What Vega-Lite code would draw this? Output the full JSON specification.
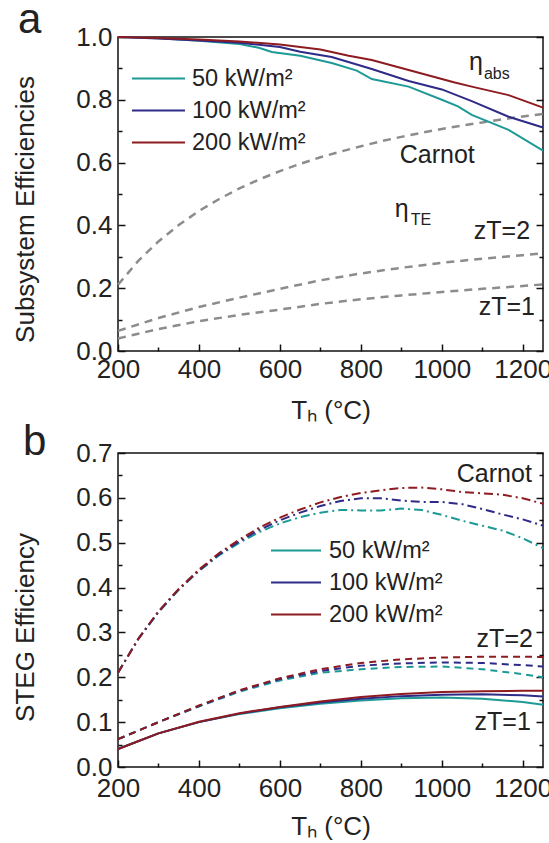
{
  "$schema": "https://vega.github.io/schema/vega-lite/v6.json",
  "padding": {"left": 11, "top": -2, "right": 0, "bottom": 0},
  "spacing": -4,
  "config": {
    "view": {"stroke": "#111", "strokeWidth": 1.5},
    "font": "Liberation Sans",
    "axis": {"labelFont": "Liberation Sans", "labelFontSize": 26, "labelColor": "#222", "titleFont": "Liberation Sans", "titleFontSize": 26, "titleFontWeight": "normal", "titleColor": "#222", "domain": false, "grid": false, "tickColor": "#111", "tickWidth": 1.5, "labelOverlap": false, "labelFlush": false},
    "legend": {"labelFont": "Liberation Sans", "labelFontSize": 23.5, "labelColor": "#222"}
  },
  "datasets": {
    "te": [
      {"T": 200, "curve": "Carnot", "eff": 0.211}, {"T": 250, "curve": "Carnot", "eff": 0.287}, {"T": 300, "curve": "Carnot", "eff": 0.349}, {"T": 350, "curve": "Carnot", "eff": 0.401}, {"T": 400, "curve": "Carnot", "eff": 0.446}, {"T": 450, "curve": "Carnot", "eff": 0.484}, {"T": 500, "curve": "Carnot", "eff": 0.518}, {"T": 550, "curve": "Carnot", "eff": 0.547}, {"T": 600, "curve": "Carnot", "eff": 0.573}, {"T": 650, "curve": "Carnot", "eff": 0.596}, {"T": 700, "curve": "Carnot", "eff": 0.617}, {"T": 750, "curve": "Carnot", "eff": 0.635}, {"T": 800, "curve": "Carnot", "eff": 0.652}, {"T": 850, "curve": "Carnot", "eff": 0.668}, {"T": 900, "curve": "Carnot", "eff": 0.682}, {"T": 950, "curve": "Carnot", "eff": 0.695}, {"T": 1000, "curve": "Carnot", "eff": 0.707}, {"T": 1050, "curve": "Carnot", "eff": 0.718}, {"T": 1100, "curve": "Carnot", "eff": 0.728}, {"T": 1150, "curve": "Carnot", "eff": 0.738}, {"T": 1200, "curve": "Carnot", "eff": 0.747}, {"T": 1250, "curve": "Carnot", "eff": 0.755},
      {"T": 200, "curve": "zT2", "eff": 0.064}, {"T": 300, "curve": "zT2", "eff": 0.105}, {"T": 400, "curve": "zT2", "eff": 0.140}, {"T": 500, "curve": "zT2", "eff": 0.170}, {"T": 600, "curve": "zT2", "eff": 0.198}, {"T": 700, "curve": "zT2", "eff": 0.225}, {"T": 800, "curve": "zT2", "eff": 0.247}, {"T": 900, "curve": "zT2", "eff": 0.265}, {"T": 1000, "curve": "zT2", "eff": 0.281}, {"T": 1100, "curve": "zT2", "eff": 0.294}, {"T": 1200, "curve": "zT2", "eff": 0.305}, {"T": 1250, "curve": "zT2", "eff": 0.311},
      {"T": 200, "curve": "zT1", "eff": 0.040}, {"T": 300, "curve": "zT1", "eff": 0.070}, {"T": 400, "curve": "zT1", "eff": 0.095}, {"T": 500, "curve": "zT1", "eff": 0.115}, {"T": 600, "curve": "zT1", "eff": 0.132}, {"T": 700, "curve": "zT1", "eff": 0.150}, {"T": 800, "curve": "zT1", "eff": 0.165}, {"T": 900, "curve": "zT1", "eff": 0.177}, {"T": 1000, "curve": "zT1", "eff": 0.188}, {"T": 1100, "curve": "zT1", "eff": 0.198}, {"T": 1200, "curve": "zT1", "eff": 0.207}, {"T": 1250, "curve": "zT1", "eff": 0.212}
    ],
    "abs": [
      {"T": 200, "flux": "50 kW/m²", "eff": 1.0}, {"T": 300, "flux": "50 kW/m²", "eff": 0.996}, {"T": 400, "flux": "50 kW/m²", "eff": 0.988}, {"T": 500, "flux": "50 kW/m²", "eff": 0.978}, {"T": 550, "flux": "50 kW/m²", "eff": 0.965}, {"T": 580, "flux": "50 kW/m²", "eff": 0.952}, {"T": 650, "flux": "50 kW/m²", "eff": 0.940}, {"T": 728, "flux": "50 kW/m²", "eff": 0.917}, {"T": 790, "flux": "50 kW/m²", "eff": 0.893}, {"T": 827, "flux": "50 kW/m²", "eff": 0.866}, {"T": 918, "flux": "50 kW/m²", "eff": 0.842}, {"T": 1000, "flux": "50 kW/m²", "eff": 0.800}, {"T": 1040, "flux": "50 kW/m²", "eff": 0.779}, {"T": 1074, "flux": "50 kW/m²", "eff": 0.752}, {"T": 1165, "flux": "50 kW/m²", "eff": 0.704}, {"T": 1250, "flux": "50 kW/m²", "eff": 0.638},
      {"T": 200, "flux": "100 kW/m²", "eff": 1.0}, {"T": 300, "flux": "100 kW/m²", "eff": 0.995}, {"T": 400, "flux": "100 kW/m²", "eff": 0.989}, {"T": 500, "flux": "100 kW/m²", "eff": 0.982}, {"T": 600, "flux": "100 kW/m²", "eff": 0.968}, {"T": 650, "flux": "100 kW/m²", "eff": 0.953}, {"T": 728, "flux": "100 kW/m²", "eff": 0.936}, {"T": 827, "flux": "100 kW/m²", "eff": 0.898}, {"T": 918, "flux": "100 kW/m²", "eff": 0.860}, {"T": 1000, "flux": "100 kW/m²", "eff": 0.833}, {"T": 1074, "flux": "100 kW/m²", "eff": 0.796}, {"T": 1165, "flux": "100 kW/m²", "eff": 0.746}, {"T": 1250, "flux": "100 kW/m²", "eff": 0.712},
      {"T": 200, "flux": "200 kW/m²", "eff": 1.0}, {"T": 300, "flux": "200 kW/m²", "eff": 0.997}, {"T": 400, "flux": "200 kW/m²", "eff": 0.992}, {"T": 500, "flux": "200 kW/m²", "eff": 0.986}, {"T": 600, "flux": "200 kW/m²", "eff": 0.976}, {"T": 700, "flux": "200 kW/m²", "eff": 0.960}, {"T": 770, "flux": "200 kW/m²", "eff": 0.940}, {"T": 827, "flux": "200 kW/m²", "eff": 0.927}, {"T": 918, "flux": "200 kW/m²", "eff": 0.895}, {"T": 1032, "flux": "200 kW/m²", "eff": 0.855}, {"T": 1074, "flux": "200 kW/m²", "eff": 0.842}, {"T": 1165, "flux": "200 kW/m²", "eff": 0.815}, {"T": 1250, "flux": "200 kW/m²", "eff": 0.775}
    ],
    "stegDash": [
      {"T": 200, "flux": "50 kW/m²", "kind": "Carnot", "eff": 0.210}, {"T": 250, "flux": "50 kW/m²", "kind": "Carnot", "eff": 0.285}, {"T": 300, "flux": "50 kW/m²", "kind": "Carnot", "eff": 0.345}, {"T": 350, "flux": "50 kW/m²", "kind": "Carnot", "eff": 0.395}, {"T": 400, "flux": "50 kW/m²", "kind": "Carnot", "eff": 0.437}, {"T": 450, "flux": "50 kW/m²", "kind": "Carnot", "eff": 0.472}, {"T": 500, "flux": "50 kW/m²", "kind": "Carnot", "eff": 0.500}, {"T": 550, "flux": "50 kW/m²", "kind": "Carnot", "eff": 0.524}, {"T": 600, "flux": "50 kW/m²", "kind": "Carnot", "eff": 0.543}, {"T": 650, "flux": "50 kW/m²", "kind": "Carnot", "eff": 0.557}, {"T": 700, "flux": "50 kW/m²", "kind": "Carnot", "eff": 0.567}, {"T": 750, "flux": "50 kW/m²", "kind": "Carnot", "eff": 0.573}, {"T": 800, "flux": "50 kW/m²", "kind": "Carnot", "eff": 0.572}, {"T": 850, "flux": "50 kW/m²", "kind": "Carnot", "eff": 0.572}, {"T": 900, "flux": "50 kW/m²", "kind": "Carnot", "eff": 0.576}, {"T": 950, "flux": "50 kW/m²", "kind": "Carnot", "eff": 0.573}, {"T": 1000, "flux": "50 kW/m²", "kind": "Carnot", "eff": 0.562}, {"T": 1050, "flux": "50 kW/m²", "kind": "Carnot", "eff": 0.549}, {"T": 1100, "flux": "50 kW/m²", "kind": "Carnot", "eff": 0.538}, {"T": 1150, "flux": "50 kW/m²", "kind": "Carnot", "eff": 0.527}, {"T": 1200, "flux": "50 kW/m²", "kind": "Carnot", "eff": 0.510}, {"T": 1250, "flux": "50 kW/m²", "kind": "Carnot", "eff": 0.488},
      {"T": 200, "flux": "100 kW/m²", "kind": "Carnot", "eff": 0.210}, {"T": 250, "flux": "100 kW/m²", "kind": "Carnot", "eff": 0.285}, {"T": 300, "flux": "100 kW/m²", "kind": "Carnot", "eff": 0.346}, {"T": 350, "flux": "100 kW/m²", "kind": "Carnot", "eff": 0.396}, {"T": 400, "flux": "100 kW/m²", "kind": "Carnot", "eff": 0.438}, {"T": 450, "flux": "100 kW/m²", "kind": "Carnot", "eff": 0.474}, {"T": 500, "flux": "100 kW/m²", "kind": "Carnot", "eff": 0.503}, {"T": 550, "flux": "100 kW/m²", "kind": "Carnot", "eff": 0.529}, {"T": 600, "flux": "100 kW/m²", "kind": "Carnot", "eff": 0.550}, {"T": 650, "flux": "100 kW/m²", "kind": "Carnot", "eff": 0.567}, {"T": 700, "flux": "100 kW/m²", "kind": "Carnot", "eff": 0.582}, {"T": 750, "flux": "100 kW/m²", "kind": "Carnot", "eff": 0.593}, {"T": 800, "flux": "100 kW/m²", "kind": "Carnot", "eff": 0.599}, {"T": 850, "flux": "100 kW/m²", "kind": "Carnot", "eff": 0.599}, {"T": 900, "flux": "100 kW/m²", "kind": "Carnot", "eff": 0.594}, {"T": 950, "flux": "100 kW/m²", "kind": "Carnot", "eff": 0.591}, {"T": 1000, "flux": "100 kW/m²", "kind": "Carnot", "eff": 0.591}, {"T": 1050, "flux": "100 kW/m²", "kind": "Carnot", "eff": 0.586}, {"T": 1100, "flux": "100 kW/m²", "kind": "Carnot", "eff": 0.575}, {"T": 1150, "flux": "100 kW/m²", "kind": "Carnot", "eff": 0.563}, {"T": 1200, "flux": "100 kW/m²", "kind": "Carnot", "eff": 0.552}, {"T": 1250, "flux": "100 kW/m²", "kind": "Carnot", "eff": 0.538},
      {"T": 200, "flux": "200 kW/m²", "kind": "Carnot", "eff": 0.210}, {"T": 250, "flux": "200 kW/m²", "kind": "Carnot", "eff": 0.286}, {"T": 300, "flux": "200 kW/m²", "kind": "Carnot", "eff": 0.347}, {"T": 350, "flux": "200 kW/m²", "kind": "Carnot", "eff": 0.397}, {"T": 400, "flux": "200 kW/m²", "kind": "Carnot", "eff": 0.440}, {"T": 450, "flux": "200 kW/m²", "kind": "Carnot", "eff": 0.477}, {"T": 500, "flux": "200 kW/m²", "kind": "Carnot", "eff": 0.507}, {"T": 550, "flux": "200 kW/m²", "kind": "Carnot", "eff": 0.534}, {"T": 600, "flux": "200 kW/m²", "kind": "Carnot", "eff": 0.556}, {"T": 650, "flux": "200 kW/m²", "kind": "Carnot", "eff": 0.574}, {"T": 700, "flux": "200 kW/m²", "kind": "Carnot", "eff": 0.590}, {"T": 750, "flux": "200 kW/m²", "kind": "Carnot", "eff": 0.602}, {"T": 800, "flux": "200 kW/m²", "kind": "Carnot", "eff": 0.611}, {"T": 850, "flux": "200 kW/m²", "kind": "Carnot", "eff": 0.617}, {"T": 900, "flux": "200 kW/m²", "kind": "Carnot", "eff": 0.622}, {"T": 950, "flux": "200 kW/m²", "kind": "Carnot", "eff": 0.623}, {"T": 1000, "flux": "200 kW/m²", "kind": "Carnot", "eff": 0.619}, {"T": 1050, "flux": "200 kW/m²", "kind": "Carnot", "eff": 0.613}, {"T": 1100, "flux": "200 kW/m²", "kind": "Carnot", "eff": 0.610}, {"T": 1150, "flux": "200 kW/m²", "kind": "Carnot", "eff": 0.607}, {"T": 1200, "flux": "200 kW/m²", "kind": "Carnot", "eff": 0.599}, {"T": 1250, "flux": "200 kW/m²", "kind": "Carnot", "eff": 0.587},
      {"T": 200, "flux": "50 kW/m²", "kind": "zT=2", "eff": 0.062}, {"T": 300, "flux": "50 kW/m²", "kind": "zT=2", "eff": 0.100}, {"T": 400, "flux": "50 kW/m²", "kind": "zT=2", "eff": 0.135}, {"T": 500, "flux": "50 kW/m²", "kind": "zT=2", "eff": 0.168}, {"T": 600, "flux": "50 kW/m²", "kind": "zT=2", "eff": 0.193}, {"T": 700, "flux": "50 kW/m²", "kind": "zT=2", "eff": 0.210}, {"T": 800, "flux": "50 kW/m²", "kind": "zT=2", "eff": 0.218}, {"T": 900, "flux": "50 kW/m²", "kind": "zT=2", "eff": 0.223}, {"T": 1000, "flux": "50 kW/m²", "kind": "zT=2", "eff": 0.224}, {"T": 1100, "flux": "50 kW/m²", "kind": "zT=2", "eff": 0.218}, {"T": 1200, "flux": "50 kW/m²", "kind": "zT=2", "eff": 0.207}, {"T": 1250, "flux": "50 kW/m²", "kind": "zT=2", "eff": 0.200},
      {"T": 200, "flux": "100 kW/m²", "kind": "zT=2", "eff": 0.062}, {"T": 300, "flux": "100 kW/m²", "kind": "zT=2", "eff": 0.100}, {"T": 400, "flux": "100 kW/m²", "kind": "zT=2", "eff": 0.136}, {"T": 500, "flux": "100 kW/m²", "kind": "zT=2", "eff": 0.170}, {"T": 600, "flux": "100 kW/m²", "kind": "zT=2", "eff": 0.196}, {"T": 700, "flux": "100 kW/m²", "kind": "zT=2", "eff": 0.214}, {"T": 800, "flux": "100 kW/m²", "kind": "zT=2", "eff": 0.226}, {"T": 900, "flux": "100 kW/m²", "kind": "zT=2", "eff": 0.231}, {"T": 1000, "flux": "100 kW/m²", "kind": "zT=2", "eff": 0.233}, {"T": 1100, "flux": "100 kW/m²", "kind": "zT=2", "eff": 0.232}, {"T": 1200, "flux": "100 kW/m²", "kind": "zT=2", "eff": 0.227}, {"T": 1250, "flux": "100 kW/m²", "kind": "zT=2", "eff": 0.224},
      {"T": 200, "flux": "200 kW/m²", "kind": "zT=2", "eff": 0.062}, {"T": 300, "flux": "200 kW/m²", "kind": "zT=2", "eff": 0.100}, {"T": 400, "flux": "200 kW/m²", "kind": "zT=2", "eff": 0.137}, {"T": 500, "flux": "200 kW/m²", "kind": "zT=2", "eff": 0.171}, {"T": 600, "flux": "200 kW/m²", "kind": "zT=2", "eff": 0.198}, {"T": 700, "flux": "200 kW/m²", "kind": "zT=2", "eff": 0.218}, {"T": 800, "flux": "200 kW/m²", "kind": "zT=2", "eff": 0.232}, {"T": 900, "flux": "200 kW/m²", "kind": "zT=2", "eff": 0.240}, {"T": 1000, "flux": "200 kW/m²", "kind": "zT=2", "eff": 0.244}, {"T": 1100, "flux": "200 kW/m²", "kind": "zT=2", "eff": 0.246}, {"T": 1200, "flux": "200 kW/m²", "kind": "zT=2", "eff": 0.246}, {"T": 1250, "flux": "200 kW/m²", "kind": "zT=2", "eff": 0.245}
    ],
    "stegSolid": [
      {"T": 200, "flux": "50 kW/m²", "eff": 0.040}, {"T": 300, "flux": "50 kW/m²", "eff": 0.075}, {"T": 400, "flux": "50 kW/m²", "eff": 0.100}, {"T": 500, "flux": "50 kW/m²", "eff": 0.118}, {"T": 600, "flux": "50 kW/m²", "eff": 0.131}, {"T": 700, "flux": "50 kW/m²", "eff": 0.141}, {"T": 800, "flux": "50 kW/m²", "eff": 0.148}, {"T": 900, "flux": "50 kW/m²", "eff": 0.153}, {"T": 1000, "flux": "50 kW/m²", "eff": 0.155}, {"T": 1100, "flux": "50 kW/m²", "eff": 0.152}, {"T": 1200, "flux": "50 kW/m²", "eff": 0.145}, {"T": 1250, "flux": "50 kW/m²", "eff": 0.139},
      {"T": 200, "flux": "100 kW/m²", "eff": 0.040}, {"T": 300, "flux": "100 kW/m²", "eff": 0.075}, {"T": 400, "flux": "100 kW/m²", "eff": 0.100}, {"T": 500, "flux": "100 kW/m²", "eff": 0.119}, {"T": 600, "flux": "100 kW/m²", "eff": 0.133}, {"T": 700, "flux": "100 kW/m²", "eff": 0.144}, {"T": 800, "flux": "100 kW/m²", "eff": 0.152}, {"T": 900, "flux": "100 kW/m²", "eff": 0.158}, {"T": 1000, "flux": "100 kW/m²", "eff": 0.161}, {"T": 1100, "flux": "100 kW/m²", "eff": 0.162}, {"T": 1200, "flux": "100 kW/m²", "eff": 0.160}, {"T": 1250, "flux": "100 kW/m²", "eff": 0.157},
      {"T": 200, "flux": "200 kW/m²", "eff": 0.040}, {"T": 300, "flux": "200 kW/m²", "eff": 0.075}, {"T": 400, "flux": "200 kW/m²", "eff": 0.101}, {"T": 500, "flux": "200 kW/m²", "eff": 0.120}, {"T": 600, "flux": "200 kW/m²", "eff": 0.134}, {"T": 700, "flux": "200 kW/m²", "eff": 0.146}, {"T": 800, "flux": "200 kW/m²", "eff": 0.156}, {"T": 900, "flux": "200 kW/m²", "eff": 0.163}, {"T": 1000, "flux": "200 kW/m²", "eff": 0.167}, {"T": 1100, "flux": "200 kW/m²", "eff": 0.169}, {"T": 1200, "flux": "200 kW/m²", "eff": 0.170}, {"T": 1250, "flux": "200 kW/m²", "eff": 0.170}
    ],
    "annA": [
      {"T": 896, "v": 0.599, "label": "Carnot"}, {"T": 1079, "v": 0.357, "label": "zT=2"}, {"T": 1091, "v": 0.115, "label": "zT=1"}, {"T": 1067, "v": 0.895, "label": "η"}, {"T": 884, "v": 0.427, "label": "η"}
    ],
    "subA": [
      {"T": 1104, "v": 0.866, "label": "abs"}, {"T": 923, "v": 0.401, "label": "TE"}
    ],
    "tagA": [{"T": -47, "v": 1.013, "label": "a"}],
    "annB": [
      {"T": 1037, "v": 0.635, "label": "Carnot"}, {"T": 1086, "v": 0.2675, "label": "zT=2"}, {"T": 1081, "v": 0.0825, "label": "zT=1"}
    ],
    "tagB": [{"T": -35, "v": 0.6955, "label": "b"}]
  },
  "vconcat": [
    {
      "width": 425,
      "height": 314,
      "layer": [
        {
          "data": {"name": "te"},
          "mark": {"type": "line", "strokeDash": [8, 6], "color": "#8c8c8c", "strokeWidth": 2.5},
          "encoding": {
            "x": {"field": "T", "type": "quantitative", "scale": {"domain": [200, 1250], "nice": false, "zero": false},
              "axis": {"orient": "bottom", "values": [200, 400, 600, 800, 1000, 1200], "format": "d", "tickSize": -7, "labelPadding": 12, "title": "Tₕ (°C)", "titleBaseline": "top", "titleY": 46}},
            "y": {"field": "eff", "type": "quantitative", "scale": {"domain": [0, 1], "nice": false},
              "axis": {"orient": "left", "values": [0, 0.2, 0.4, 0.6, 0.8, 1.0], "format": ".1f", "tickSize": -7, "labelPadding": 13, "title": "Subsystem Efficiencies", "titleX": -80, "titleY": 172}},
            "detail": {"field": "curve"}
          }
        },
        {
          "data": {"name": "abs"},
          "mark": {"type": "line", "strokeWidth": 2},
          "encoding": {
            "x": {"field": "T", "type": "quantitative", "scale": {"domain": [200, 1250], "nice": false, "zero": false},
              "axis": {"orient": "bottom", "values": [300, 500, 700, 900, 1100], "tickSize": -4, "labels": false, "title": null}},
            "y": {"field": "eff", "type": "quantitative", "scale": {"domain": [0, 1], "nice": false},
              "axis": {"orient": "left", "values": [0.1, 0.3, 0.5, 0.7, 0.9], "tickSize": -4, "labels": false, "title": null}},
            "color": {"field": "flux", "type": "nominal",
              "scale": {"domain": ["50 kW/m²", "100 kW/m²", "200 kW/m²"], "range": ["#1e9a96", "#2f2a88", "#8e1b20"]},
              "legend": {"orient": "none", "legendX": 13, "legendY": 31, "title": null, "symbolType": "stroke", "symbolSize": 2809, "symbolStrokeWidth": 2, "labelOffset": 6, "clipHeight": 21, "rowPadding": 8, "padding": 0}}
          }
        },
        {
          "data": {"name": "annA"},
          "mark": {"type": "text", "align": "left", "baseline": "alphabetic", "fontSize": 25, "font": "Liberation Sans", "color": "#222"},
          "encoding": {
            "x": {"field": "T", "type": "quantitative", "scale": {"domain": [200, 1250], "nice": false, "zero": false}, "axis": null},
            "y": {"field": "v", "type": "quantitative", "scale": {"domain": [0, 1], "nice": false},
              "axis": {"orient": "right", "values": [0, 0.2, 0.4, 0.6, 0.8, 1.0], "tickSize": -7, "labels": false, "title": null}},
            "text": {"field": "label"}
          }
        },
        {
          "data": {"name": "subA"},
          "mark": {"type": "text", "align": "left", "baseline": "alphabetic", "fontSize": 16, "font": "Liberation Sans", "color": "#222"},
          "encoding": {
            "x": {"field": "T", "type": "quantitative", "scale": {"domain": [200, 1250], "nice": false, "zero": false}, "axis": null},
            "y": {"field": "v", "type": "quantitative", "scale": {"domain": [0, 1], "nice": false},
              "axis": {"orient": "right", "values": [0.1, 0.3, 0.5, 0.7, 0.9], "tickSize": -4, "labels": false, "title": null}},
            "text": {"field": "label"}
          }
        },
        {
          "data": {"name": "tagA"},
          "mark": {"type": "text", "align": "left", "baseline": "alphabetic", "fontSize": 42, "font": "Liberation Sans", "color": "#222"},
          "encoding": {
            "x": {"field": "T", "type": "quantitative", "scale": {"domain": [200, 1250], "nice": false, "zero": false}, "axis": null},
            "y": {"field": "v", "type": "quantitative", "scale": {"domain": [0, 1], "nice": false}, "axis": null},
            "text": {"field": "label"}
          }
        }
      ],
      "resolve": {"axis": {"x": "independent", "y": "independent"}}
    },
    {
      "width": 425,
      "height": 314,
      "layer": [
        {
          "data": {"name": "stegDash"},
          "mark": {"type": "line", "strokeWidth": 2},
          "encoding": {
            "x": {"field": "T", "type": "quantitative", "scale": {"domain": [200, 1250], "nice": false, "zero": false},
              "axis": {"orient": "bottom", "values": [200, 400, 600, 800, 1000, 1200], "format": "d", "tickSize": -7, "labelPadding": 15, "title": "Tₕ (°C)", "titleBaseline": "top", "titleY": 46}},
            "y": {"field": "eff", "type": "quantitative", "scale": {"domain": [0, 0.7], "nice": false},
              "axis": {"orient": "left", "values": [0, 0.1, 0.2, 0.3, 0.4, 0.5, 0.6, 0.7], "format": ".1f", "tickSize": -7, "labelPadding": 13, "title": "STEG Efficiency", "titleX": -80, "titleY": 174}},
            "color": {"field": "flux", "type": "nominal",
              "scale": {"domain": ["50 kW/m²", "100 kW/m²", "200 kW/m²"], "range": ["#1e9a96", "#2f2a88", "#8e1b20"]},
              "legend": {"orient": "none", "legendX": 152, "legendY": 87, "title": null, "symbolType": "stroke", "symbolSize": 2500, "symbolStrokeWidth": 2, "labelOffset": 7, "clipHeight": 21, "rowPadding": 8, "padding": 0}},
            "strokeDash": {"field": "kind", "type": "nominal", "scale": {"domain": ["Carnot", "zT=2"], "range": [[9, 4, 2, 4], [7, 5]]}, "legend": null}
          }
        },
        {
          "data": {"name": "stegSolid"},
          "mark": {"type": "line", "strokeWidth": 2},
          "encoding": {
            "x": {"field": "T", "type": "quantitative", "scale": {"domain": [200, 1250], "nice": false, "zero": false},
              "axis": {"orient": "bottom", "values": [300, 500, 700, 900, 1100], "tickSize": -4, "labels": false, "title": null}},
            "y": {"field": "eff", "type": "quantitative", "scale": {"domain": [0, 0.7], "nice": false},
              "axis": {"orient": "left", "values": [0.05, 0.15, 0.25, 0.35, 0.45, 0.55, 0.65], "tickSize": -4, "labels": false, "title": null}},
            "color": {"field": "flux", "type": "nominal",
              "scale": {"domain": ["50 kW/m²", "100 kW/m²", "200 kW/m²"], "range": ["#1e9a96", "#2f2a88", "#8e1b20"]},
              "legend": {"orient": "none", "legendX": 152, "legendY": 87, "title": null, "symbolType": "stroke", "symbolSize": 2500, "symbolStrokeWidth": 2, "labelOffset": 7, "clipHeight": 21, "rowPadding": 8, "padding": 0}}
          }
        },
        {
          "data": {"name": "annB"},
          "mark": {"type": "text", "align": "left", "baseline": "alphabetic", "fontSize": 25, "font": "Liberation Sans", "color": "#222"},
          "encoding": {
            "x": {"field": "T", "type": "quantitative", "scale": {"domain": [200, 1250], "nice": false, "zero": false}, "axis": null},
            "y": {"field": "v", "type": "quantitative", "scale": {"domain": [0, 0.7], "nice": false},
              "axis": {"orient": "right", "values": [0, 0.1, 0.2, 0.3, 0.4, 0.5, 0.6, 0.7], "tickSize": -7, "labels": false, "title": null}},
            "text": {"field": "label"}
          }
        },
        {
          "data": {"name": "tagB"},
          "mark": {"type": "text", "align": "left", "baseline": "alphabetic", "fontSize": 42, "font": "Liberation Sans", "color": "#222"},
          "encoding": {
            "x": {"field": "T", "type": "quantitative", "scale": {"domain": [200, 1250], "nice": false, "zero": false}, "axis": null},
            "y": {"field": "v", "type": "quantitative", "scale": {"domain": [0, 0.7], "nice": false},
              "axis": {"orient": "right", "values": [0.05, 0.15, 0.25, 0.35, 0.45, 0.55, 0.65], "tickSize": -4, "labels": false, "title": null}},
            "text": {"field": "label"}
          }
        }
      ],
      "resolve": {"axis": {"x": "independent", "y": "independent"}}
    }
  ],
  "resolve": {"scale": {"color": "independent"}, "legend": {"color": "independent"}}
}
